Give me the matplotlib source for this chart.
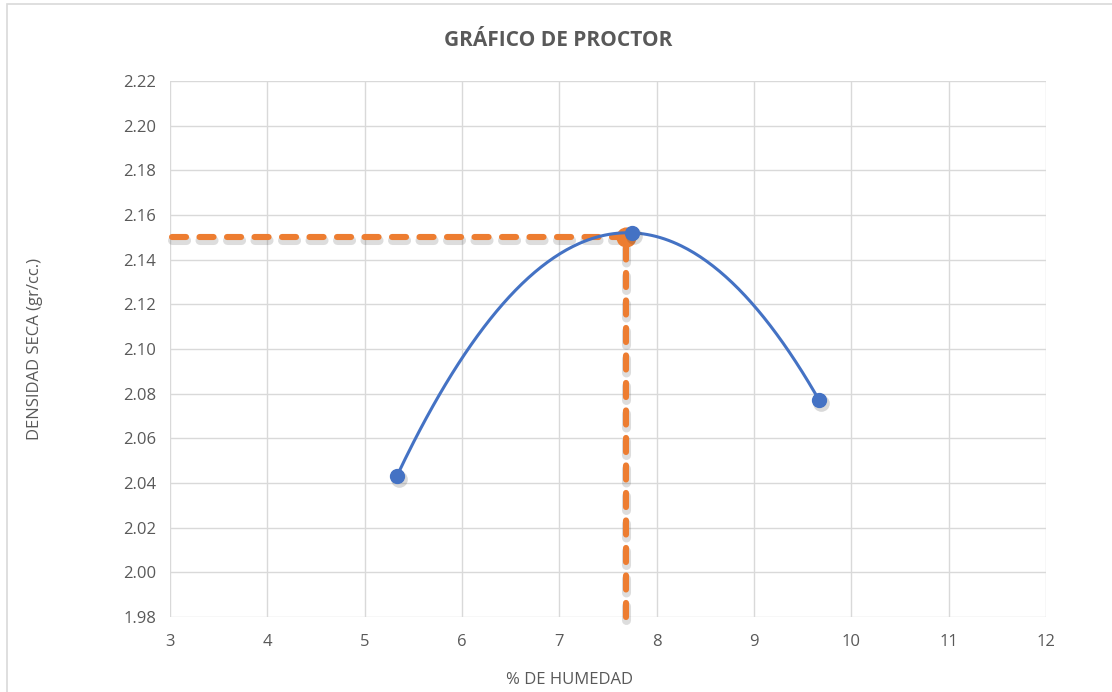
import numpy as np
import matplotlib.pyplot as plt
import matplotlib.patheffects as pe
from matplotlib.patches import Rectangle

# ensayo proctor
humedad = [5.33, 7.75, 9.67]
densidad = [2.043, 2.152, 2.077]

# optimo
hum_opt = 7.69
dens_max = 2.15

x_ticks = list(range(3, 13))
y_ticks = [1.98, 2.00, 2.02, 2.04, 2.06, 2.08, 2.10, 2.12, 2.14, 2.16, 2.18, 2.20, 2.22]

blue = '#4472C4'
orange = '#ED7D31'
gray_txt = '#595959'
grid_c = '#D9D9D9'

plt.rcParams['font.family'] = ['Open Sans', 'DejaVu Sans']

fig = plt.figure(figsize=(11.12, 6.92), dpi=100)
ax = fig.add_axes([170 / 1112, 1 - 617 / 692, (1046 - 170) / 1112, (617 - 81) / 692])

# marco del grafico
fig.patches.append(Rectangle((7 / 1112, -0.05), 1.1, 1 - 4 / 692 + 0.05, transform=fig.transFigure,
                             fill=False, edgecolor='#D9D9D9', linewidth=1.2))

ax.set_xlim(3, 12)
ax.set_ylim(1.98, 2.22)
ax.set_xticks(x_ticks)
ax.set_yticks(y_ticks)
ax.set_yticklabels(['{:.2f}'.format(v) for v in y_ticks])
ax.grid(True, color=grid_c, linewidth=1.0)
ax.set_axisbelow(True)
for s in ax.spines.values():
    s.set_visible(False)
ax.tick_params(length=0, labelsize=12, labelcolor=gray_txt, pad=10)
ax.tick_params(axis='x', pad=12)

shadow = [pe.SimpleLineShadow(offset=(0, -2), shadow_color='#444444', alpha=0.18, linewidth=6.5),
          pe.Normal()]

# lineas del optimo
for xs, ys in [([3.02, hum_opt], [dens_max, dens_max]), ([hum_opt, hum_opt], [1.98, dens_max])]:
    ax.plot(xs, ys, color=orange, linewidth=4.4, dashes=(2.3, 2.2), dash_capstyle='round',
            zorder=3, clip_on=False, path_effects=shadow)
ax.plot([hum_opt], [dens_max], 'o', color=orange, markersize=13.5, zorder=4)

# curva suave por los tres puntos
coef = np.polyfit(humedad, densidad, 2)
cx = np.linspace(humedad[0], humedad[-1], 200)
ax.plot(cx, np.polyval(coef, cx), color=blue, linewidth=2.2, zorder=5)

# sombra de los puntos
ax.plot(np.array(humedad) + 0.02, np.array(densidad) - 0.0012, 'o', color='#555555',
        alpha=0.22, markersize=12, markeredgewidth=0, zorder=5)
ax.plot(humedad, densidad, 'o', color=blue, markersize=10, zorder=6)

fig.text(558 / 1112, 1 - 40 / 692, 'GRÁFICO DE PROCTOR', ha='center', va='center',
         fontsize=15, fontweight='bold', color=gray_txt)
fig.text(570 / 1112, 1 - 680 / 692, '% DE HUMEDAD', ha='center', va='center',
         fontsize=12, color=gray_txt)
fig.text(35 / 1112, 1 - 349 / 692, 'DENSIDAD SECA (gr/cc.)', ha='center', va='center',
         rotation=90, fontsize=12, color=gray_txt)

fig.savefig('out.png', dpi=100)
